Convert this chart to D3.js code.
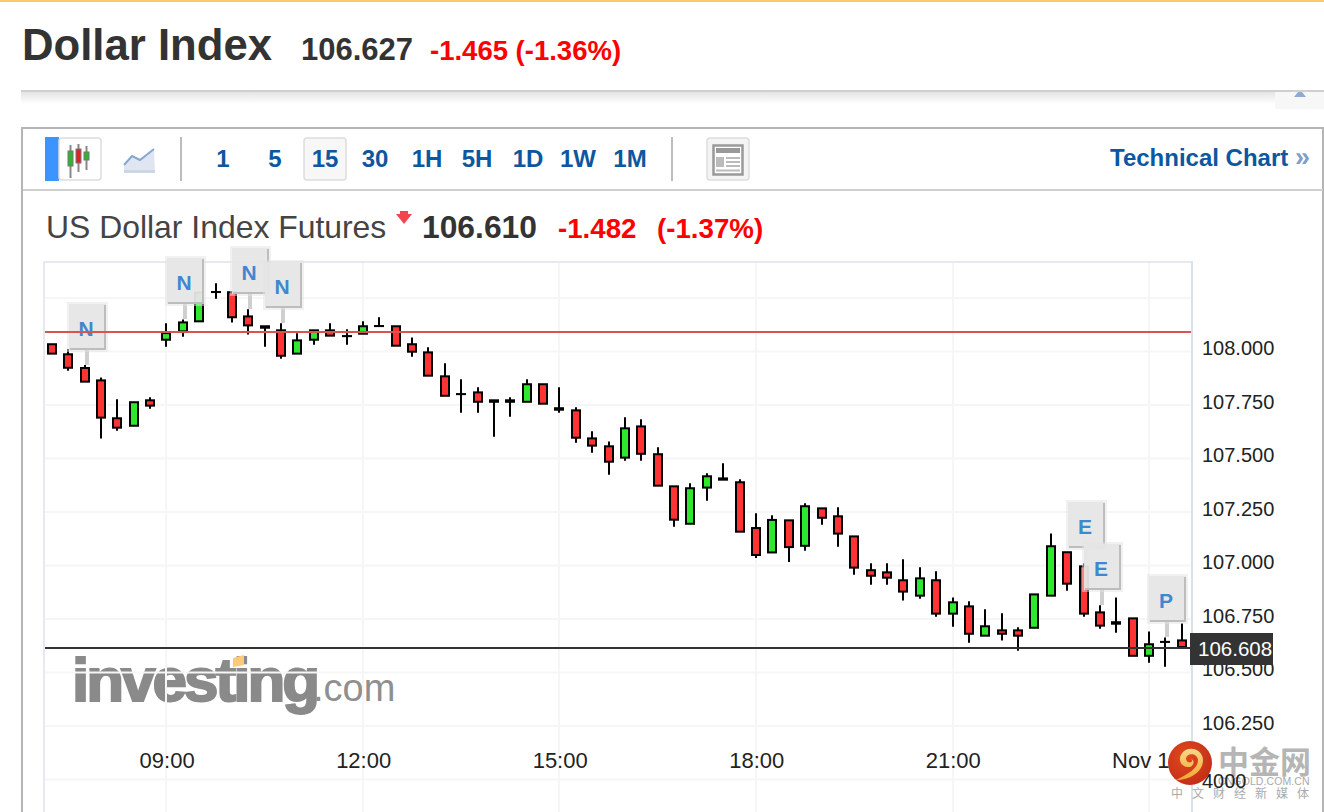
<!DOCTYPE html>
<html><head><meta charset="utf-8">
<script src="https://cdn.jsdelivr.net/npm/d3@7/dist/d3.min.js"></script>
<style>html,body{margin:0;padding:0;background:#fff;overflow:hidden}svg{display:block}text{font-family:"Liberation Sans",Arial,sans-serif}</style>
</head><body><svg id="c" width="1324" height="812"></svg>
<script>
// ---------- data ----------
const opens=[108.034,107.987,107.923,107.865,107.688,107.653,107.772,108.055,108.094,108.141,108.278,108.277,108.164,108.118,108.099,107.990,108.055,108.099,108.072,108.083,108.119,108.118,108.034,107.996,107.884,107.801,107.809,107.772,107.772,107.765,107.847,107.735,107.725,107.594,107.557,107.504,107.650,107.520,107.370,107.195,107.364,107.407,107.389,107.175,107.061,107.211,107.092,107.267,107.230,107.136,106.978,106.968,106.931,106.859,106.931,106.775,106.809,106.672,106.697,106.697,106.709,106.859,107.062,106.996,106.781,106.735,106.753,106.578,106.643,106.650];
const closes=[107.990,107.924,107.859,107.691,107.644,107.763,107.747,108.086,108.136,108.275,108.278,108.160,108.122,108.111,107.980,108.052,108.099,108.074,108.072,108.118,108.119,108.027,107.999,107.887,107.793,107.801,107.765,107.765,107.765,107.847,107.756,107.728,107.597,107.560,107.485,107.641,107.522,107.373,107.214,107.361,107.417,107.401,107.158,107.049,107.213,107.086,107.277,107.223,107.149,106.990,106.952,106.943,106.878,106.940,106.775,106.828,106.681,106.716,106.681,106.672,106.865,107.090,106.915,106.775,106.719,106.728,106.578,106.632,106.643,106.619];
const highs=[108.034,108.012,107.937,107.879,107.777,107.763,107.786,108.132,108.150,108.275,108.319,108.277,108.197,108.118,108.132,108.085,108.099,108.132,108.104,108.141,108.160,108.118,108.066,108.020,107.945,107.870,107.833,107.772,107.786,107.870,107.847,107.833,107.739,107.627,107.580,107.693,107.683,107.552,107.370,107.384,107.431,107.478,107.403,107.244,107.235,107.211,107.291,107.267,107.272,107.136,107.010,107.010,107.029,106.992,106.973,106.851,106.833,106.795,106.777,106.711,106.865,107.150,107.062,107.010,106.814,106.851,106.753,106.692,106.664,106.730];
const lows=[107.990,107.910,107.859,107.593,107.630,107.653,107.733,108.022,108.069,108.141,108.247,108.135,108.079,108.022,107.966,107.990,108.032,108.074,108.032,108.083,108.119,108.027,107.976,107.887,107.793,107.714,107.714,107.602,107.695,107.765,107.756,107.714,107.574,107.527,107.424,107.490,107.490,107.373,107.181,107.195,107.303,107.401,107.158,107.035,107.061,107.016,107.069,107.191,107.088,106.957,106.910,106.910,106.836,106.845,106.761,106.714,106.639,106.672,106.649,106.602,106.709,106.859,106.882,106.761,106.705,106.686,106.578,106.546,106.527,106.619];
const priceTicks=[108,107.75,107.5,107.25,107,106.75,106.5,106.25,106];
const priceTickLabels=["108.000","107.750","107.500","107.250","107.000","106.750","106.500","106.250","4000"];
const upperGrid=[108.25];
const timeTickHours=[9,12,15,18,21,24];
const timeTickLabels=["09:00","12:00","15:00","18:00","21:00","Nov 1"];
const eventLabels=["N","N","N","N","E","E","P"];
const eventCandles=[2,8,12,14,63,64,68];
const prevClose=108.092, lastPrice=106.615, lastPriceLabel="106.608";
const intervals=["1","5","15","30","1H","5H","1D","1W","1M"];
const intervalX=[223,275,325,375,427,477,528,578,630];

// ---------- scaffolding ----------
const svg=d3.select("#c");
const F='"Liberation Sans",Arial,sans-serif';
const t0=Date.UTC(2022,9,31,7,15);
const timeAt=i=>new Date(t0+i*15*60000);
const x=d3.scaleUtc().domain([timeAt(0),timeAt(69)]).range([52,1182]);
const y=d3.scaleLinear().domain([108,106]).range([351.5,779.5]);
const px=d=>Math.round(x(d)-0.2);
function txt(g,s,xx,yy,size,fill,weight,anchor){
  return g.append("text").attr("x",xx).attr("y",yy).attr("font-size",size).attr("fill",fill).attr("font-weight",weight||"normal").attr("text-anchor",anchor||"start").text(s);
}
const defs=svg.append("defs");
const sh=defs.append("linearGradient").attr("id","sh").attr("x1",0).attr("x2",0).attr("y1",0).attr("y2",1);
sh.append("stop").attr("offset",0).attr("stop-color","#e4e4e4");
sh.append("stop").attr("offset",1).attr("stop-color","#ffffff");
const rg=defs.append("radialGradient").attr("id","rg").attr("cx",.4).attr("cy",.35).attr("r",.75);
rg.append("stop").attr("offset",0).attr("stop-color","#e2491f");
rg.append("stop").attr("offset",1).attr("stop-color","#bf2b16");
const yg0=defs.append("linearGradient").attr("id","gold").attr("x1",0).attr("x2",0).attr("y1",0).attr("y2",1);
yg0.append("stop").attr("offset",0).attr("stop-color","#f7d98a");
yg0.append("stop").attr("offset",1).attr("stop-color","#f2a72e");
defs.append("clipPath").attr("id","plot").append("rect").attr("x",45).attr("y",263).attr("width",1146).attr("height",549);

// page header
svg.append("rect").attr("x",0).attr("y",0).attr("width",1324).attr("height",2).attr("fill","#f9c868");
const head=svg.append("g");
txt(head,"Dollar Index",22,60,43.7,"#333","bold");
txt(head,"106.627",301,60,31,"#333","bold");
txt(head,"-1.465 (-1.36%)",430,60,27.5,"#f00","bold");
svg.append("rect").attr("x",21).attr("y",92).attr("width",1303).attr("height",12).attr("fill","url(#sh)");
svg.append("rect").attr("x",21).attr("y",90).attr("width",1303).attr("height",2).attr("fill","#cfcfcf");
svg.append("rect").attr("x",1275).attr("y",92).attr("width",49).attr("height",17).attr("fill","#f7f7f7");
svg.append("path").attr("d","M1294 97 L1306 97 L1302 92 L1298 92 Z").attr("fill","#8fabd0");

// frame
const frame=svg.append("g");
frame.append("rect").attr("x",22).attr("y",128).attr("width",1301).attr("height",700).attr("fill","#fff").attr("stroke","#b5b5b5").attr("stroke-width",2);
frame.append("rect").attr("x",23).attr("y",189).attr("width",1300).attr("height",2).attr("fill","#cfcfcf");

// toolbar
const tb=svg.append("g");
tb.append("rect").attr("x",45).attr("y",137).attr("width",14).attr("height",44).attr("fill","#3c94ff");
tb.append("rect").attr("x",59).attr("y",138).attr("width",42).attr("height",42).attr("rx",3).attr("fill","#fff").attr("stroke","#ddd").attr("stroke-width",1.5);
[[71,145,178,151,166,"#2db52d"],[79,144,172,149,163,"#d22"],[87,146,170,152,160,"#2db52d"]].forEach(c=>{
  tb.append("line").attr("x1",c[0]-.5).attr("x2",c[0]-.5).attr("y1",c[1]).attr("y2",c[2]).attr("stroke","#888").attr("stroke-width",2);
  tb.append("rect").attr("x",c[0]-3).attr("y",c[3]).attr("width",5).attr("height",c[4]-c[3]).attr("fill",c[5]).attr("stroke","#777");
});
tb.append("path").attr("d","M124 166 L132 157 L140 160 L154 149 L155 173 L124 173 Z").attr("fill","#dfe6f1");
tb.append("path").attr("d","M124 165 L132 156 L140 160 L154 149").attr("fill","none").attr("stroke","#86a7d2").attr("stroke-width",2);
tb.append("rect").attr("x",124).attr("y",170).attr("width",31).attr("height",3).attr("fill","#ccd7e6");
[181,672].forEach(v=>tb.append("rect").attr("x",v-1).attr("y",137).attr("width",2).attr("height",44).attr("fill","#bdbdbd"));
tb.append("rect").attr("x",304).attr("y",138).attr("width",42).attr("height",42).attr("rx",3).attr("fill","#f7f7f7").attr("stroke","#ddd").attr("stroke-width",1.5);
intervals.forEach((s,i)=>txt(tb,s,intervalX[i],167,24,"#0d57a0","bold","middle"));
tb.append("rect").attr("x",707).attr("y",138).attr("width",42).attr("height",42).attr("rx",3).attr("fill","#f4f4f4").attr("stroke","#ddd").attr("stroke-width",1.5);
tb.append("rect").attr("x",713.5).attr("y",145.5).attr("width",29).attr("height",29).attr("fill","#fff").attr("stroke","#999").attr("stroke-width",2.5);
tb.append("rect").attr("x",716).attr("y",148).attr("width",24).attr("height",5).attr("fill","#999");
tb.append("rect").attr("x",716).attr("y",157).attr("width",8).attr("height",10).attr("fill","#bbb");
[157,161,165,169.5].forEach((v,i)=>tb.append("rect").attr("x",i==3?716:726).attr("y",v).attr("width",i==3?24:14).attr("height",2).attr("fill","#bbb"));
txt(tb,"Technical Chart",1110,166,24,"#0d57a0","bold");
txt(tb,"»",1295,166,27,"#7f9fc6","bold");

// instrument line
const inst=svg.append("g");
txt(inst,"US Dollar Index Futures",46,238,31.9,"#444");
inst.append("path").attr("d","M396 214 L400 214 L400 211 L408 211 L408 214 L412 214 L404 224 Z").attr("fill","#f4444e");
txt(inst,"106.610",422,238,31.8,"#333","bold");
txt(inst,"-1.482",558,238,27.7,"#f00","bold");
txt(inst,"(-1.37%)",657,238,27.7,"#f00","bold");

// plot area, logo under the grid
const logo=svg.append("g");
const lt=txt(logo,"investing",72,701,62,"#8a8a8a","bold");
lt.attr("letter-spacing",-3).attr("stroke","#8a8a8a").attr("stroke-width",2);
txt(logo,".com",313,701,38,"#8f8f8f");
logo.append("path").attr("d","M233 658 L244 655 L244 665 L233 667 Z").attr("fill","#fdc97a");

const plot=svg.append("g").attr("clip-path","url(#plot)");
const timeTicks=timeTickHours.map(h=>new Date(t0+(h*60-435)*60000));
plot.selectAll("line.gy").data(priceTicks.concat(upperGrid)).join("line").attr("class","gy")
  .attr("x1",45).attr("x2",1191).attr("y1",d=>y(d)).attr("y2",d=>y(d)).attr("stroke","#f6f6f7").attr("stroke-width",2);
plot.selectAll("line.gx").data(timeTicks).join("line").attr("class","gx")
  .attr("x1",d=>px(d)).attr("x2",d=>px(d)).attr("y1",263).attr("y2",812).attr("stroke","#f6f6f7").attr("stroke-width",2);
svg.append("rect").attr("x",43).attr("y",261).attr("width",1150).attr("height",2).attr("fill","#e6eaf0");
svg.append("rect").attr("x",43).attr("y",261).attr("width",2).attr("height",551).attr("fill","#e6eaf0");
svg.append("rect").attr("x",1191).attr("y",261).attr("width",2).attr("height",551).attr("fill","#d9e1ec");

// candles
const candles=opens.map((o,i)=>({i,o,c:closes[i],h:highs[i],l:lows[i],t:timeAt(i)}));
const cg=plot.selectAll("g.candle").data(candles).join("g").attr("class","candle");
cg.append("line").attr("x1",d=>px(d.t)).attr("x2",d=>px(d.t)).attr("y1",d=>y(d.h)).attr("y2",d=>y(d.l)).attr("stroke","#000").attr("stroke-width",2);
cg.append("rect").attr("x",d=>px(d.t)-4).attr("width",8)
  .attr("y",d=>y(Math.max(d.o,d.c))).attr("height",d=>Math.max(0.05,Math.abs(y(d.o)-y(d.c))))
  .attr("fill",d=>d.c>d.o?"#2ee82e":"#ff3333").attr("stroke","#000").attr("stroke-width",2);

// event flags (can rise above the plot frame)
const ev=svg.selectAll("g.ev").data(eventLabels.map((s,k)=>({s,d:candles[eventCandles[k]]}))).join("g").attr("class","ev")
  .attr("transform",d=>`translate(${px(d.d.t)},${Math.round(y(d.d.h))})`);
ev.append("rect").attr("x",0).attr("y",-16).attr("width",4).attr("height",16).attr("fill","#cfcfcf");
ev.append("rect").attr("x",-18).attr("y",-63).attr("width",41).attr("height",50).attr("fill","#e4e4e4").attr("opacity",.5);
ev.append("rect").attr("x",-16).attr("y",-61).attr("width",37).attr("height",46).attr("fill","#e5e5e5").attr("opacity",.9);
ev.append("rect").attr("x",19).attr("y",-60).attr("width",2).attr("height",45).attr("fill","#bdbdbd");
ev.append("rect").attr("x",-15).attr("y",-17).attr("width",36).attr("height",2).attr("fill","#bdbdbd");
ev.append("text").attr("x",1).attr("y",-29).attr("font-size",21).attr("font-weight","bold").attr("text-anchor","middle").attr("fill","#3f87cf").text(d=>d.s);

// reference lines
const refs=svg.append("g").attr("clip-path","url(#plot)");
refs.append("line").attr("x1",45).attr("x2",1191).attr("y1",Math.round(y(prevClose))).attr("y2",Math.round(y(prevClose))).attr("stroke","#d9534f").attr("stroke-width",2);
refs.append("line").attr("x1",45).attr("x2",1191).attr("y1",Math.round(y(lastPrice))).attr("y2",Math.round(y(lastPrice))).attr("stroke","#333").attr("stroke-width",2);

// watermark
const wm=svg.append("g");
wm.append("circle").attr("cx",1190).attr("cy",763).attr("r",22).attr("fill","url(#rg)");
wm.append("path").attr("d","M1176 780 C1190 780 1203 772 1203 760 C1203 750 1190 745 1183 752 C1177 758 1180 768 1190 767 C1194 766 1195 760 1191 759 C1195 762 1187 765 1186 759 C1186 753 1197 752 1198 760 C1198 768 1190 773 1176 780 Z").attr("fill","url(#gold)");
wm.append("text").attr("x",1218).attr("y",773).attr("font-size",31).attr("font-weight","bold").attr("fill","#b5b5b5").attr("style",'font-family:"Noto Sans CJK SC"').text("中金网");
wm.append("text").attr("x",1218).attr("y",785).attr("font-size",10.5).attr("letter-spacing",.1).attr("fill","#aaa").text("CNGOLD.COM.CN");
wm.append("text").attr("x",1171).attr("y",798).attr("font-size",12).attr("letter-spacing",9).attr("fill","#aaa").attr("style",'font-family:"Noto Sans CJK SC"').text("中文财经新媒体");

// axes
const ya=d3.axisRight(y).tickValues(priceTicks).tickSize(0).tickPadding(0).tickFormat((d,i)=>priceTickLabels[i]);
const yg=svg.append("g").attr("transform","translate(1202,0)").call(ya);
yg.select(".domain").remove();
yg.selectAll("text").attr("font-size",20).attr("fill","#222").attr("font-family",F).attr("dy",(d,i)=>i==8?"0.4em":"0.16em");
const xa=d3.axisBottom(x).tickValues(timeTicks).tickSize(0).tickPadding(0).tickFormat((d,i)=>timeTickLabels[i]);
const xg=svg.append("g").attr("transform","translate(0,752)").call(xa);
xg.select(".domain").remove();
xg.selectAll("text").attr("font-size",22).attr("fill","#222").attr("font-family",F).attr("dx",(d,i)=>i==5?-9:0);

// last price tag
svg.append("rect").attr("x",1190).attr("y",633).attr("width",83).attr("height",32).attr("fill","#333");
txt(svg,lastPriceLabel,1198,656,20.5,"#fff");
</script></body></html>
